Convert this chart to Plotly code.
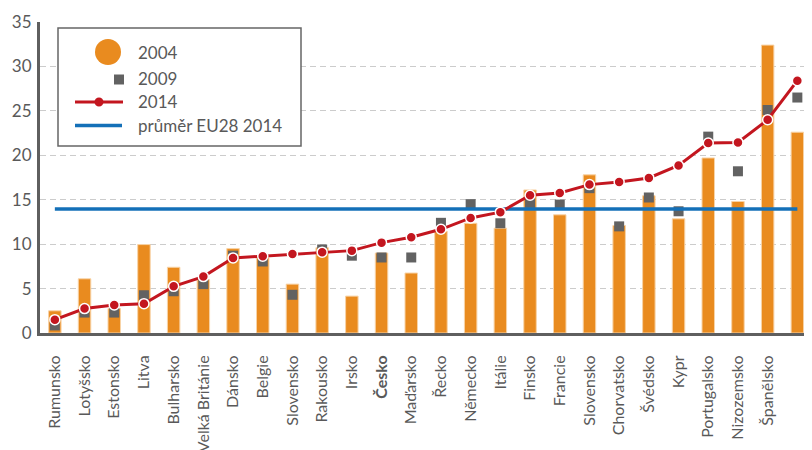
import plotly.graph_objects as go

countries = ["Rumunsko", "Lotyšsko", "Estonsko", "Litva", "Bulharsko", "Velká Británie",
             "Dánsko", "Belgie", "Slovensko", "Rakousko", "Irsko", "Česko", "Maďarsko",
             "Řecko", "Německo", "Itálie", "Finsko", "Francie", "Slovensko", "Chorvatsko",
             "Švédsko", "Kypr", "Portugalsko", "Nizozemsko", "Španělsko", "Polsko"]

v2004 = [2.5, 6.1, 2.75, 9.95, 7.4, 6.0, 9.5, 8.5, 5.5, 9.6, 4.15, 9.0, 6.75,
         11.45, 12.35, 11.8, 16.1, 13.3, 17.8, 12.1, 15.45, 12.85, 19.7, 14.8, 32.4, 22.6]

v2009 = [0.85, 2.3, 2.3, 4.25, 4.7, 5.5, 8.7, 8.05, 4.3, 9.4, 8.7, 8.5, 8.5,
         12.4, 14.5, 12.35, 14.65, 14.45, 16.3, 12.0, 15.25, 13.7, 22.1, 18.2, 25.1, 26.5]

v2014 = [1.5, 2.75, 3.15, 3.3, 5.25, 6.35, 8.45, 8.65, 8.9, 9.1, 9.27, 10.17, 10.77,
         11.67, 12.95, 13.6, 15.5, 15.75, 16.7, 17.0, 17.45, 18.85, 21.37, 21.45, 24.0, 28.4]

eu_avg = 13.95

tick_labels = ["<b>Česko</b>" if c == "Česko" else c for c in countries]
x = list(range(len(countries)))

ORANGE = "#E98B1F"
GREY = "#626262"
RED = "#C3161F"
BLUE = "#1470B8"
TXT = "#595959"
FONT = "Lato"

# page body has an 8px margin; compensate so screen positions match
OFF = 8
W, H = 812 - 2 * OFF, 450 - OFF
L, R, T = 40 - OFF, 0, 22 - OFF
PH = 311
B = H - T - PH
PW = W - L - R
SLOT = 29.7


def px(v):  # screen pixel x -> paper
    return (v - OFF - L) / PW


def py(v):  # screen pixel y -> paper
    return (T + PH - (v - OFF)) / PH


fig = go.Figure()
fig.add_trace(go.Bar(x=x, y=v2004, width=0.42, marker=dict(color=ORANGE,
                     line=dict(color="#F8D3A6", width=1)), name="2004", showlegend=False))
fig.add_trace(go.Scatter(x=x, y=v2009, mode="markers", marker=dict(symbol="square", size=10, color=GREY),
                         name="2009", showlegend=False))
fig.add_trace(go.Scatter(x=x, y=[eu_avg] * len(x), mode="lines", line=dict(color=BLUE, width=3.5),
                         name="průměr EU28 2014", showlegend=False))
fig.add_trace(go.Scatter(x=x, y=v2014, mode="lines+markers", line=dict(color=RED, width=3),
                         marker=dict(symbol="circle", size=10, color=RED, line=dict(color="white", width=1.5)),
                         name="2014", showlegend=False))

shapes = [
    dict(type="rect", xref="paper", yref="paper", x0=px(58), x1=px(301), y0=py(146), y1=py(28),
         line=dict(color="#666666", width=1.5), fillcolor="white", layer="above"),
    dict(type="circle", xref="paper", yref="paper", x0=px(95), x1=px(121), y0=py(65), y1=py(39),
         fillcolor=ORANGE, line=dict(width=0)),
    dict(type="rect", xref="paper", yref="paper", x0=px(114), x1=px(124), y0=py(84.5), y1=py(74.5),
         fillcolor=GREY, line=dict(width=0)),
    dict(type="line", xref="paper", yref="paper", x0=px(75), x1=px(123), y0=py(102), y1=py(102),
         line=dict(color=RED, width=3)),
    dict(type="circle", xref="paper", yref="paper", x0=px(94.5), x1=px(103.5), y0=py(106.5), y1=py(97.5),
         fillcolor=RED, line=dict(width=0)),
    dict(type="line", xref="paper", yref="paper", x0=px(75), x1=px(122), y0=py(125.5), y1=py(125.5),
         line=dict(color=BLUE, width=3.5)),
]

annotations = []
for label, yy in [("2004", 52), ("2009", 78), ("2014", 101), ("průměr EU28 2014", 125)]:
    annotations.append(dict(text=label, xref="paper", yref="paper", x=px(136), y=py(yy),
                            xanchor="left", yanchor="middle", showarrow=False,
                            font=dict(family=FONT, size=17, color=TXT)))

fig.update_layout(
    width=W, height=H,
    margin=dict(l=L, r=R, t=T, b=B, pad=0, autoexpand=False),
    plot_bgcolor="white", paper_bgcolor="white",
    font=dict(family=FONT, color=TXT),
    shapes=shapes, annotations=annotations,
    showlegend=False,
    xaxis=dict(range=[-0.5, -0.5 + PW / SLOT], tickmode="array", tickvals=x, ticktext=tick_labels,
               tickangle=-90, tickfont=dict(family=FONT, size=16, color=TXT),
               showgrid=False, zeroline=False, showline=True, linecolor="#5f5f5f", linewidth=3,
               ticks="", ticklabelstandoff=13, fixedrange=True, automargin=False),
    yaxis=dict(range=[0, 35], tickvals=[0, 5, 10, 15, 20, 25, 30, 35],
               tickfont=dict(family=FONT, size=17, color=TXT),
               showgrid=True, gridcolor="#CCCCCC", gridwidth=1, griddash="6px,4px",
               zeroline=False, showline=True, linecolor="#5f5f5f", linewidth=3,
               ticks="", ticklabelstandoff=2, fixedrange=True, automargin=False),
)

fig.write_html("out.html")
